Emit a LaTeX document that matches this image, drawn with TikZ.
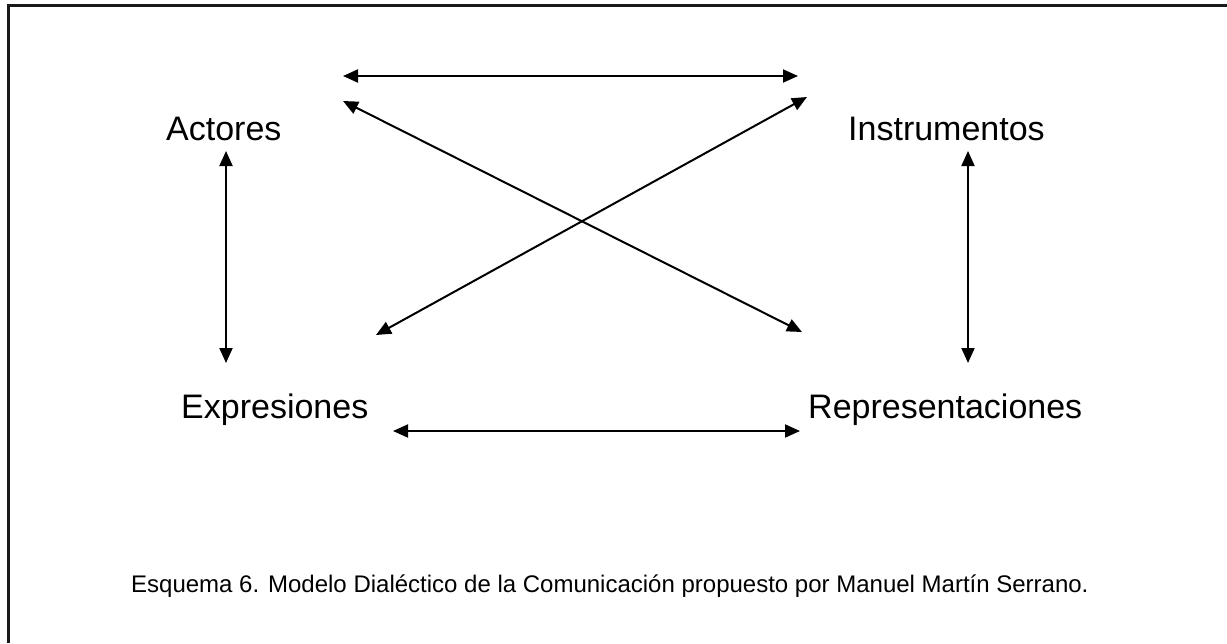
\documentclass[tikz,border=0pt]{standalone}
\usepackage{fontspec}
\setmainfont{Liberation Sans}
\usetikzlibrary{arrows.meta}
\begin{document}
\begin{tikzpicture}[x=1pt,y=-1pt,
  lbl/.style={anchor=base west,inner sep=0pt,font=\fontsize{34}{40}\selectfont},
  captext/.style={anchor=base west,inner sep=0pt,font=\fontsize{24}{28}\selectfont},
  link/.style={line width=2pt,{Triangle[length=15pt,width=13pt]}-{Triangle[length=15pt,width=13pt]}},
  frame/.style={line width=2.2pt,draw=black!90}]
\useasboundingbox (0,0) rectangle (1227,643);
\fill[white] (0,0) rectangle (1227,643);
\draw[frame] (8.5,643) -- (8.5,5.5) -- (1227,5.5);
\node[lbl] (act) at (166,140) {Actores};
\node[lbl] (ins) at (848,140) {Instrumentos};
\node[lbl] (exp) at (181,418) {Expresiones};
\node[lbl] (rep) at (808,418) {Representaciones};
\node[captext] (capt) at (131,592) {Esquema 6. Modelo Dialéctico de la Comunicación propuesto por Manuel Martín Serrano.};
\coordinate (t1) at (343,76);  \coordinate (t2) at (798,76);
\coordinate (d1a) at (343,101); \coordinate (d1b) at (802,332);
\coordinate (d2a) at (807,97); \coordinate (d2b) at (376,335);
\coordinate (v1a) at (226,151); \coordinate (v1b) at (226,363);
\coordinate (v2a) at (968,151); \coordinate (v2b) at (968,363);
\coordinate (b1) at (393,431); \coordinate (b2) at (800,431);
\draw[link] (t1) -- (t2);
\draw[link] (d1a) -- (d1b);
\draw[link] (d2a) -- (d2b);
\draw[link] (v1a) -- (v1b);
\draw[link] (v2a) -- (v2b);
\draw[link] (b1) -- (b2);
\end{tikzpicture}
\end{document}
